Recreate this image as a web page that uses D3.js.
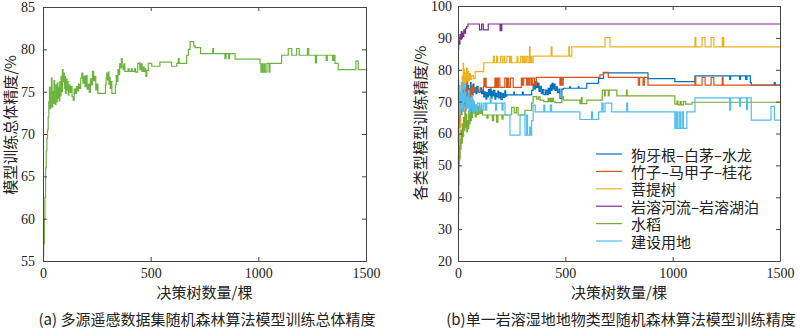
<!DOCTYPE html>
<html><head><meta charset="utf-8">
<script src="https://cdn.jsdelivr.net/npm/d3@7"></script>
<style>
html,body{margin:0;padding:0;background:#fff;}
svg{display:block;}
.tick text{font-family:"Liberation Serif","Times New Roman",serif;font-size:14px;fill:#222;}
.cjk{font-family:"Noto Sans CJK SC","Noto Sans",sans-serif;fill:#222;}
</style></head>
<body>
<svg id="c" width="800" height="329"></svg>
<script>
// ---------- DATA ----------
const xTicks = [0, 500, 1000, 1500];
const yTicksA = [55, 60, 65, 70, 75, 80, 85];
const yTicksB = [20, 30, 40, 50, 60, 70, 80, 90, 100];

// (a) overall accuracy [trees, %]
const overallAcc = [[0,55.5],[3,57],[6,60],[9,62.5],[12,66],[15,68],[18,69.5],[21,70.5],[24,72],[27,73.8],[30,75.5],[33,73],[36,74.8],[39,76.6],[42,73.2],[45,75],[48,73.6],[51,76.3],[54,74],[57,73.5],[60,75.8],[63,73.8],[66,76],[69,74.2],[72,75.5],[75,73.9],[78,76.2],[81,74.5],[84,76.8],[87,75],[90,77.6],[93,76.2],[96,77.2],[99,75.4],[102,76.8],[105,74.8],[108,76.5],[111,75.2],[114,76.2],[117,74.6],[120,75.8],[125,74.9],[130,75.6],[135,74.4],[140,74],[145,75.3],[150,74.8],[155,75.6],[160,75.1],[165,75.9],[170,75.4],[175,76.6],[180,77.2],[185,76.0],[190,76.8],[195,75.6],[200,76.9],[205,75.3],[210,75.9],[215,74.9],[220,76.5],[225,75.8],[230,77.4],[235,76.3],[240,76.8],[245,75.2],[250,75.9],[255,74.8],[290,75.8],[293,76.6],[296,77.2],[300,76.4],[303,77.3],[306,75.9],[309,76.7],[312,75.4],[316,76.2],[320,74.8],[336,75.8],[340,76.9],[344,76.2],[348,77.6],[352,77.0],[356,78.3],[360,77.8],[364,78.9],[368,78.0],[372,77.6],[376,78.3],[380,77.4],[395,77.7],[400,77.4],[410,77.7],[415,77.4],[425,77.7],[430,77.3],[440,78.3],[445,78.4],[450,77.6],[455,78.3],[460,77.4],[465,77.9],[470,77.4],[475,77.7],[478,76.8],[482,77.5],[489,78.35],[505,78.0],[543,78.5],[597,78.0],[621,78.35],[628,78.9],[632,78.35],[667,79.3],[675,80.0],[683,80.9],[700,80.4],[706,80.2],[732,79.5],[788,80.1],[792,79.5],[845,78.9],[850,79.5],[862,78.9],[866,79.5],[892,78.85],[1008,78.3],[1012,77.3],[1018,78.3],[1022,77.3],[1028,78.3],[1032,77.3],[1040,78.35],[1050,77.3],[1054,78.35],[1108,79.3],[1139,80.1],[1155,79.3],[1178,80.1],[1190,79.3],[1228,80.1],[1234,79.3],[1265,78.4],[1270,79.3],[1315,78.7],[1320,79.3],[1345,78.7],[1350,79.3],[1356,78.35],[1371,77.6],[1453,78.6],[1464,77.6],[1500,77.6]];

// (b) per-class accuracy [trees, %]
const gouyagen = [[0,57],[2,62],[4,66],[6,70],[8,65],[10,72],[13,68],[16,74],[19,70],[22,76],[25,71],[28,75],[31,69.5],[34,74],[37,71],[40,76.5],[43,72],[46,75],[49,70],[52,74],[55,72],[58,76],[61,71.5],[64,74.5],[67,72],[70,75.5],[74,73],[78,74.3],[84,72.5],[88,74.8],[94,73],[104,74.3],[110,72.5],[115,73.5],[120,71.5],[124,73],[130,70.8],[134,72.8],[138,71.5],[142,73.8],[146,72],[150,74],[154,71],[158,73.2],[162,71.8],[166,73.5],[172,70.8],[176,72.6],[180,71.5],[186,73.3],[190,71.2],[196,72.8],[200,70.6],[206,72.5],[212,71.3],[218,73.4],[222,71.7],[227,72.1],[260,73.0],[263,72.1],[300,73.0],[304,72.1],[343,73.5],[350,75.5],[356,74],[362,76.3],[367,74.5],[372,75.8],[377,73.2],[382,74.8],[388,72.5],[394,73.8],[400,72.2],[408,73.6],[414,72.2],[420,74.2],[425,72.6],[430,75.2],[434,73.5],[438,75.7],[442,74],[447,75.5],[452,73.5],[458,74.6],[463,72.8],[470,73.9],[475,71.0],[484,73.9],[491,74.2],[520,74.6],[524,74.2],[560,74.6],[564,74.2],[600,75.7],[655,77.3],[678,79.0],[885,77.2],[1010,76.3],[1104,78.1],[1266,77.0],[1270,78.1],[1312,77.0],[1316,78.1],[1340,77.0],[1346,78.1],[1362,76.0],[1366,75.2],[1473,76.0],[1478,75.2],[1500,75.2]];
const zhuzi = [[0,60],[3,64],[6,68],[9,62],[12,70],[15,66],[18,73],[21,67],[24,75],[27,69],[30,72],[33,67],[36,74],[39,70],[42,76],[45,71],[48,73],[52,69],[56,74],[60,72],[64,75],[68,73],[72,74.5],[78,73.6],[118,74.7],[121,77.3],[124,74.7],[128,77.3],[131,74.5],[172,77.4],[176,74.5],[180,77.4],[184,74.5],[188,77.4],[195,74.5],[218,77.4],[226,74.5],[230,77.4],[236,74.5],[244,77.4],[257,74.5],[295,77.4],[300,75.2],[306,77.4],[320,75.2],[324,77.4],[330,75.2],[335,77.4],[342,75.2],[348,77.4],[357,75.2],[365,77.6],[475,75.2],[480,77.6],[484,75.2],[490,77.6],[661,78.4],[677,79.2],[700,77.6],[840,75.2],[846,77.6],[862,75.2],[868,77.6],[885,75.2],[1104,77.6],[1108,75.2],[1137,77.6],[1151,75.2],[1179,77.6],[1192,75.2],[1231,77.6],[1235,75.2],[1500,75.2]];
const puti = [[0,26.5],[2,35],[4,44],[6,52],[8,60],[10,66],[12,72],[14,68],[16,75],[18,71],[20,78],[22,74],[24,82],[26,76],[28,80],[30,74],[32,79],[34,75.5],[36,78],[38,76],[40,80.5],[43,77],[46,79.5],[50,76.5],[54,78.8],[58,77],[64,78.2],[72,77.2],[80,79.4],[120,82.2],[165,84.2],[169,82.2],[180,84.2],[184,82.2],[198,84.2],[206,82.2],[214,84.2],[218,82.2],[228,84.2],[240,82.2],[245,84.2],[250,82.2],[275,84.2],[279,82.2],[292,84.2],[300,82.2],[306,84.2],[312,82.2],[318,84.2],[326,82.2],[333,87.2],[336,82.2],[338,84.2],[343,82.2],[350,84.3],[434,87.2],[438,84.3],[516,87.2],[519,84.3],[530,87.2],[685,90.1],[708,87.2],[1104,90.1],[1108,87.2],[1137,90.1],[1151,87.2],[1179,90.1],[1192,87.2],[1231,90.1],[1233,87.2],[1236,90.1],[1238,87.2],[1500,87.2]];
const yanrong = [[0,86.5],[3,89],[6,88],[9,91],[12,89.5],[15,92],[18,90],[21,91.5],[24,90.5],[27,92.5],[31,91.5],[35,93],[40,93.5],[46,94.35],[100,92.5],[110,94.35],[118,92.5],[141,94.35],[196,92.3],[199,94.35],[201,92.3],[204,94.35],[1500,94.35]];
const shuidao = [[0,48],[2,53],[4,50],[6,56],[8,52],[10,58],[12,55],[14,61],[17,57],[20,63],[23,59],[26,65],[29,61],[32,67],[35,62],[38,66],[41,60.5],[44,64],[47,61.5],[50,67],[53,63],[56,68.5],[59,64],[62,69.5],[65,65],[68,70.5],[72,66.5],[76,69],[80,65.2],[85,68],[90,66],[96,68.5],[102,66.3],[108,67.5],[114,65.8],[135,64.8],[140,65.8],[160,64.0],[166,65.8],[180,63.6],[186,65.8],[205,64.5],[210,65.8],[250,68.2],[262,66.5],[272,68.2],[280,65.8],[312,67.3],[343,69.5],[350,71.6],[367,70.8],[375,71.5],[382,70.5],[400,70.0],[420,71.0],[424,70.0],[430,71.0],[434,70.0],[440,71.0],[444,70.0],[452,69.7],[484,71.6],[491,70.5],[568,69.4],[574,71.2],[578,69.4],[600,70.5],[672,73.6],[682,71.8],[686,73.6],[700,71.8],[704,73.6],[740,71.8],[785,73.6],[788,71.8],[1010,69.2],[1020,70.2],[1025,69.0],[1035,70.0],[1040,69.0],[1050,70.0],[1060,69.2],[1090,69.8],[1500,69.8]];
const jianshe = [[0,70],[2,76.5],[4,68],[6,75],[8,66],[10,73],[13,69],[16,76],[19,67],[22,72.5],[25,68],[28,75.5],[31,70],[34,73],[37,67.5],[40,71.5],[44,68],[48,73.5],[52,66.5],[56,70.5],[60,68],[64,72],[68,67],[72,70],[76,66.5],[80,69],[86,67],[92,69.5],[100,67.4],[108,69.5],[112,67.3],[120,69.5],[128,67.3],[134,69.5],[150,71],[154,69.5],[175,67.3],[180,69.5],[205,67.3],[210,69.5],[219,65.8],[242,59.5],[289,65.8],[312,59.5],[320,65.8],[324,59.5],[334,62],[338,59.5],[343,64],[350,68.9],[360,66.8],[400,68.9],[404,66.8],[430,68.9],[436,66.8],[568,64.4],[622,66.8],[626,64.4],[655,66.8],[670,69.5],[676,66.8],[685,69.5],[716,66.8],[786,69.5],[790,66.8],[1010,61.6],[1016,66.8],[1022,61.6],[1030,66.8],[1036,61.6],[1044,66.8],[1050,61.6],[1066,66.8],[1104,71.2],[1266,67.3],[1270,71.2],[1312,68.5],[1316,71.2],[1344,67.5],[1348,71.2],[1366,64.2],[1458,68.5],[1474,64.2],[1500,64.2]];

const seriesNames = ["狗牙根–白茅–水龙","竹子–马甲子–桂花","菩提树","岩溶河流–岩溶湖泊","水稻","建设用地"];
const seriesData = [gouyagen, zhuzi, puti, yanrong, shuidao, jianshe];
const seriesColors = ["#0072BD","#D95319","#EDB120","#7E2F8E","#77AC30","#4DBEEE"];

// ---------- DRAW ----------
const svg = d3.select("#c");
const axisColor = "#444";

function panel(cfg){
  const g = svg.append("g");
  const x = d3.scaleLinear().domain([0,1500]).range([cfg.l, cfg.r]);
  const y = d3.scaleLinear().domain(cfg.yDom).range([cfg.b, cfg.t]);
  const line = d3.line().x(d=>x(d[0])).y(d=>y(d[1])).curve(d3.curveStepAfter);
  cfg.series.forEach((s,i)=>{
    g.append("path").attr("d", line(s)).attr("fill","none")
      .attr("stroke", cfg.colors[i]).attr("stroke-width",1.2);
  });
  const style = sel => { sel.select(".domain").attr("stroke",axisColor); sel.selectAll(".tick line").attr("stroke",axisColor); };
  g.append("g").attr("transform",`translate(0,${cfg.b})`)
    .call(d3.axisBottom(x).tickValues(xTicks).tickSizeInner(-4).tickSizeOuter(0).tickPadding(7).tickFormat(d3.format("d"))).call(style);
  g.append("g").attr("transform",`translate(0,${cfg.t})`)
    .call(d3.axisTop(x).tickValues(xTicks).tickSizeInner(-4).tickSizeOuter(0).tickFormat("")).call(style);
  g.append("g").attr("transform",`translate(${cfg.l},0)`)
    .call(d3.axisLeft(y).tickValues(cfg.yTicks).tickSizeInner(-4).tickSizeOuter(0).tickPadding(cfg.pad)).call(style);
  g.append("g").attr("transform",`translate(${cfg.r},0)`)
    .call(d3.axisRight(y).tickValues(cfg.yTicks).tickSizeInner(-4).tickSizeOuter(0).tickFormat("")).call(style);
  g.selectAll(".tick text").attr("font-family",null).attr("font-size",null);
  // labels
  g.append("text").attr("class","cjk").attr("font-size",15).attr("text-anchor","middle")
    .attr("x",(cfg.l+cfg.r)/2).attr("y",298).text("决策树数量/棵");
  g.append("text").attr("class","cjk").attr("font-size",15).attr("text-anchor","middle")
    .attr("transform",`translate(${cfg.ylx},${cfg.yly}) rotate(-90)`).text(cfg.ylabel);
  g.append("text").attr("class","cjk").attr("font-size",15).attr("text-anchor","middle")
    .attr("x",cfg.capx).attr("y",325).text(cfg.caption);
  return {g,x,y};
}

panel({l:43,r:366,t:7,b:261,yDom:[55,85],yTicks:yTicksA,pad:8,
  series:[overallAcc],colors:["#6DB33F"],
  ylabel:"模型训练总体精度/%",ylx:16,yly:125,
  caption:"(a) 多源遥感数据集随机森林算法模型训练总体精度",capx:207});

panel({l:458,r:780,t:6,b:261,yDom:[20,100],yTicks:yTicksB,pad:6,
  series:seriesData,colors:seriesColors,
  ylabel:"各类型模型训练精度/%",ylx:426,yly:123,
  caption:"(b)单一岩溶湿地地物类型随机森林算法模型训练精度",capx:621});

// legend
const lg = svg.append("g");
seriesNames.forEach((n,i)=>{
  const yy = 154 + i*17.4;
  lg.append("line").attr("x1",596).attr("x2",622).attr("y1",yy).attr("y2",yy)
    .attr("stroke",seriesColors[i]).attr("stroke-width",1.2);
  lg.append("text").attr("class","cjk").attr("font-size",15).attr("x",631).attr("y",yy)
    .attr("dominant-baseline","central").text(n);
});
</script>
</body></html>
